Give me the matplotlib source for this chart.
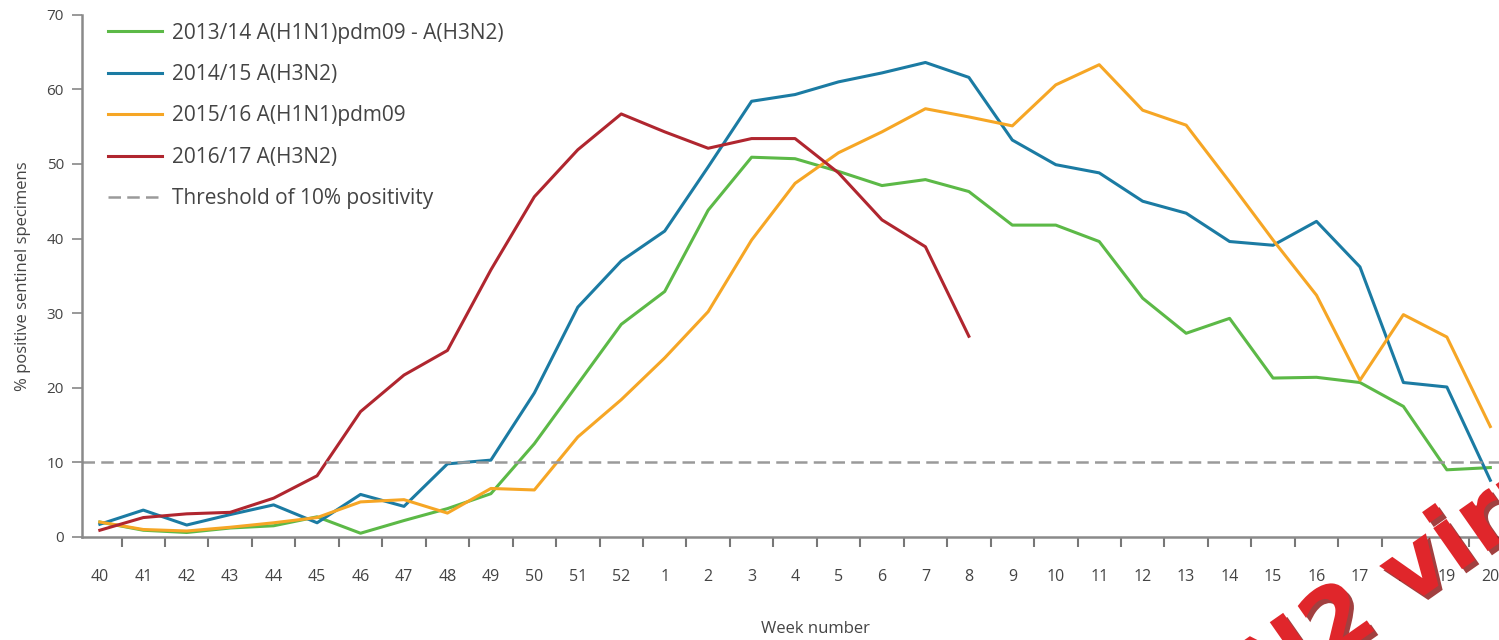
import matplotlib.pyplot as plt
from matplotlib.ticker import FixedLocator
from matplotlib import patheffects

plt.rcParams['font.family'] = ['Open Sans', 'DejaVu Sans']

weeks = ['40', '41', '42', '43', '44', '45', '46', '47', '48', '49', '50', '51', '52',
         '1', '2', '3', '4', '5', '6', '7', '8', '9', '10', '11', '12', '13', '14',
         '15', '16', '17', '18', '19', '20']

s2013 = [2.0, 0.9, 0.6, 1.2, 1.5, 2.7, 0.5, 2.2, 3.8, 5.8, 12.5, 20.5, 28.5,
         32.9, 43.8, 50.9, 50.7, 49.0, 47.1, 47.9, 46.3, 41.8, 41.8, 39.6, 32.0,
         27.3, 29.3, 21.3, 21.4, 20.7, 17.5, 9.0, 9.3]
s2014 = [1.7, 3.6, 1.6, 3.0, 4.3, 1.9, 5.7, 4.1, 9.8, 10.3, 19.3, 30.8, 37.0,
         41.0, 49.6, 58.4, 59.3, 61.0, 62.2, 63.6, 61.6, 53.2, 49.9, 48.8, 45.0,
         43.4, 39.6, 39.1, 42.3, 36.2, 20.7, 20.1, 7.6]
s2015 = [2.0, 1.0, 0.8, 1.3, 1.9, 2.6, 4.7, 5.0, 3.2, 6.5, 6.3, 13.4, 18.4,
         24.0, 30.2, 39.8, 47.4, 51.5, 54.3, 57.4, 56.3, 55.1, 60.6, 63.3, 57.2,
         55.2, 47.6, 39.8, 32.4, 21.0, 29.8, 26.8, 14.8]
s2016 = [0.9, 2.6, 3.1, 3.3, 5.2, 8.2, 16.8, 21.7, 25.0, 35.8, 45.6, 51.9, 56.7,
         54.3, 52.1, 53.4, 53.4, 48.8, 42.5, 38.9, 26.9]

labels = ['2013/14 A(H1N1)pdm09 - A(H3N2)', '2014/15 A(H3N2)',
          '2015/16 A(H1N1)pdm09', '2016/17 A(H3N2)']
colors = ['#5cb947', '#1b7ba3', '#f6a625', '#b0262f']
threshold = 10

fig = plt.figure(figsize=(14.99, 6.4), dpi=100)
ax = fig.add_axes([0.0547, 0.161, 0.9453, 0.816])

x = list(range(len(weeks)))
for series, lab, col in zip([s2013, s2014, s2015, s2016], labels, colors):
    ax.plot(x[:len(series)], series, color=col, lw=2.2, label=lab)
ax.axhline(threshold, color='#9a9a9a', lw=1.8, ls=(0, (5, 2.5)),
           label='Threshold of 10% positivity')

ax.set_xlim(-0.41, 32.2)
ax.set_ylim(0, 70)
ax.set_yticks(range(0, 71, 10))
ax.set_xticks(x)
ax.set_xticklabels(weeks)
ax.xaxis.set_minor_locator(FixedLocator([i + 0.5 for i in x]))
ax.tick_params(axis='x', which='major', length=0, pad=23, labelsize=11.5, colors='#444444')
ax.tick_params(axis='x', which='minor', length=7, width=1.5, color='#777777')
ax.tick_params(axis='y', length=7, width=1.2, color='#888888', labelsize=11,
               labelcolor='#444444', pad=6)

for side in ['top', 'right']:
    ax.spines[side].set_visible(False)
for side in ['left', 'bottom']:
    ax.spines[side].set_color('#8a8a8a')
    ax.spines[side].set_linewidth(1.8)

ax.set_xlabel('Week number', fontsize=12, color='#444444')
ax.xaxis.set_label_coords((815 - 82) / 1417, -0.16)
ax.set_ylabel('% positive sentinel specimens', fontsize=12, color='#444444')
ax.yaxis.set_label_coords(-0.036, 0.5)

leg = ax.legend(loc='upper left', bbox_to_anchor=(0.018, 0.985), frameon=False,
                fontsize=15, handlelength=2.6, handletextpad=0.5,
                labelspacing=0.98, borderpad=0, borderaxespad=0)
for t in leg.get_texts():
    t.set_color('#444444')

# watermark in the bottom right corner, mostly cut off
fig.text(0.913, 0.058, 'H3N2 virus', fontsize=66, fontweight='bold', color='#e0262b',
         rotation=35, rotation_mode='anchor', ha='center', va='center',
         family='DejaVu Sans',
         path_effects=[patheffects.withSimplePatchShadow(offset=(3, -3), shadow_rgbFace='#8a1010', alpha=0.8)])

fig.savefig('out.png', dpi=100)
